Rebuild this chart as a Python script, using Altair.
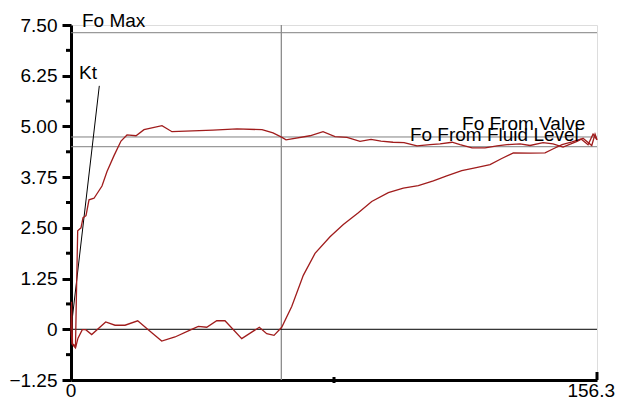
import altair as alt
import pandas as pd

# ---- data ----
fast_x = [0, 0.15, 0.45, 1.34, 1.57, 1.99, 2.97, 3.57, 4.46, 5.35, 6.84, 9.21, 10.70, 12.78, 14.86,
          16.64, 19.32, 21.69, 27.04, 30.01, 42.20, 49.33, 56.76, 60.03, 62.70, 63.89, 71.02, 74.89,
          78.45, 82.02, 85.88, 89.15, 92.12, 95.69, 98.96, 102.82, 106.69, 109.66, 113.22, 115.60,
          119.17, 123.03, 126.60, 129.57, 133.43, 136.40, 140.27, 143.24, 146.21, 150.37, 152.15,
          154.74, 155.72, 156.3]
fast_y = [0, 0.68, -0.36, -0.41, 0.68, 2.43, 2.50, 2.75, 2.80, 3.19, 3.23, 3.53, 3.89, 4.28, 4.64,
          4.79, 4.77, 4.92, 5.02, 4.87, 4.91, 4.94, 4.92, 4.84, 4.73, 4.67, 4.77, 4.87, 4.75, 4.73,
          4.63, 4.68, 4.64, 4.61, 4.60, 4.52, 4.55, 4.57, 4.61, 4.55, 4.47, 4.47, 4.52, 4.55, 4.57,
          4.53, 4.60, 4.57, 4.49, 4.63, 4.71, 4.53, 4.81, 4.67]

slow_x = [0, 0.30, 1.34, 2.08, 3.36, 4.37, 6.15, 10.31, 13.08, 16.05, 19.82, 23.48, 26.95, 30.91,
          35.36, 37.83, 40.33, 43.30, 45.76, 50.73, 53.70, 55.96, 58.16, 60.33, 62.61, 65.59, 69.03,
          72.51, 76.97, 80.92, 85.38, 89.36, 94.29, 98.75, 103.21, 107.67, 111.65, 116.11, 120.06,
          124.52, 127.99, 131.44, 136.40, 140.86, 143.33, 145.91, 148.89, 151.56, 153.64, 155.13, 156.3]
slow_y = [0, -0.36, -0.46, -0.22, -0.01, -0.01, -0.13, 0.18, 0.10, 0.10, 0.21, -0.05, -0.29, -0.19,
          -0.02, 0.07, 0.05, 0.21, 0.21, -0.23, -0.07, 0.05, -0.11, -0.15, 0.05, 0.56, 1.33, 1.87,
          2.28, 2.58, 2.87, 3.15, 3.37, 3.48, 3.54, 3.66, 3.78, 3.91, 3.98, 4.06, 4.21, 4.35, 4.34,
          4.35, 4.45, 4.55, 4.62, 4.69, 4.55, 4.81, 4.67]

ref_names = ["Fo Max", "Fo From Valve", "Fo From Fluid Level"]
ref_values = [7.31, 4.74, 4.50]

label_texts = ["Fo Max", "Kt", "Fo From Valve", "Fo From Fluid Level"]
label_x = [3.27, 2.38, 116.2, 100.7]
label_y = [7.46, 6.18, 4.91, 4.65]

kt_x = [0, 8.41]
kt_y = [0, 6.0]

marker_x = 62.5
x_min, x_max = 0, 156.3
y_min, y_max = -1.25, 7.5
y_major = [-1.25, 0, 1.25, 2.5, 3.75, 5.0, 6.25, 7.5]
y_minor = [-0.625, 0.625, 1.875, 3.125, 4.375, 5.625, 6.875]
x_tick_long = [156.3]
x_tick_short = [78.15]
x_label_text = ["0", "156.3"]
x_label_pos = [0, 156.3]
x_label_align = ["center", "right"]

W, H = 526, 355
FONT = "Liberation Sans"
RED = "#a01c1c"

# ---- tables ----
curves = pd.concat([
    pd.DataFrame({"x": fast_x, "y": fast_y, "s": "fast", "o": range(len(fast_x))}),
    pd.DataFrame({"x": slow_x, "y": slow_y, "s": "slow", "o": range(len(slow_x))}),
])
refs = pd.DataFrame({"name": ref_names, "y": ref_values, "x0": x_min, "x1": x_max})
labels = pd.DataFrame({"t": label_texts, "x": label_x, "y": label_y})
kt = pd.DataFrame({"x": kt_x, "y": kt_y})
zero = pd.DataFrame({"y": [0], "x0": [x_min], "x1": [x_max]})
vline = pd.DataFrame({"x": [marker_x], "y0": [y_min], "y1": [y_max]})
minor = pd.DataFrame({"y": y_minor})
xlong = pd.DataFrame({"x": x_tick_long})
xshort = pd.DataFrame({"x": x_tick_short})
xlab = pd.DataFrame({"t": x_label_text, "x": x_label_pos, "a": x_label_align})

xs = alt.Scale(domain=[x_min, x_max], nice=False, zero=False)
ys = alt.Scale(domain=[y_min, y_max], nice=False, zero=False)

x_axis = alt.Axis(values=[0, 156.3], labels=False, ticks=False, grid=False, title=None,
                  domainColor="black", domainWidth=3)
y_axis = alt.Axis(values=y_major, grid=False, title=None,
                  labelExpr="datum.value == 0 ? '0' : format(datum.value, '.2f')",
                  domainColor="black", domainWidth=3, tickColor="black", tickWidth=3, tickSize=9,
                  labelFont=FONT, labelFontSize=19, labelColor="black", labelPadding=5,
                  labelFlush=False, labelOverlap=False)

base_axes = alt.Chart(zero).mark_rule(color="black", strokeWidth=1).encode(
    x=alt.X("x0:Q", scale=xs, axis=x_axis),
    x2="x1:Q",
    y=alt.Y("y:Q", scale=ys, axis=y_axis),
)

ref_rules = alt.Chart(refs).mark_rule(color="#808080", strokeWidth=1).encode(
    x=alt.X("x0:Q", scale=xs), x2="x1:Q", y=alt.Y("y:Q", scale=ys)
)

v_rule = alt.Chart(vline).mark_rule(color="#8c8c8c", strokeWidth=1.3).encode(
    x=alt.X("x:Q", scale=xs), y=alt.Y("y0:Q", scale=ys), y2="y1:Q"
)

kt_line = alt.Chart(kt).mark_line(color="black", strokeWidth=1).encode(
    x=alt.X("x:Q", scale=xs), y=alt.Y("y:Q", scale=ys)
)

curve_lines = alt.Chart(curves).mark_line(strokeWidth=1.3).encode(
    x=alt.X("x:Q", scale=xs),
    y=alt.Y("y:Q", scale=ys),
    detail="s:N",
    order="o:Q",
    color=alt.value(RED),
)

text = alt.Chart(labels).mark_text(align="left", baseline="alphabetic", font=FONT,
                                    fontSize=19, color="black").encode(
    x=alt.X("x:Q", scale=xs), y=alt.Y("y:Q", scale=ys), text="t:N"
)

x_lab_center = alt.Chart(xlab).transform_filter("datum.a == 'center'").mark_text(
    align="center", baseline="alphabetic", font=FONT, fontSize=19, color="black"
).encode(x=alt.X("x:Q", scale=xs), y=alt.value(H + 17), text="t:N")

x_lab_right = alt.Chart(xlab).transform_filter("datum.a == 'right'").mark_text(
    align="right", baseline="alphabetic", font=FONT, fontSize=19, color="black", dx=18
).encode(x=alt.X("x:Q", scale=xs), y=alt.value(H + 17), text="t:N")

minor_ticks = alt.Chart(minor).mark_rule(color="black", strokeWidth=3).encode(
    y=alt.Y("y:Q", scale=ys), x=alt.value(-5), x2=alt.value(0)
)

x_long_ticks = alt.Chart(xlong).mark_rule(color="black", strokeWidth=3).encode(
    x=alt.X("x:Q", scale=xs), y=alt.value(H - 8), y2=alt.value(H)
)
x_short_ticks = alt.Chart(xshort).mark_rule(color="black", strokeWidth=3).encode(
    x=alt.X("x:Q", scale=xs), y=alt.value(H - 3), y2=alt.value(H + 3)
)

chart = alt.layer(
    ref_rules, v_rule, base_axes, kt_line, curve_lines, text,
    minor_ticks, x_long_ticks, x_short_ticks, x_lab_center, x_lab_right
).properties(
    width=W, height=H,
    autosize=alt.AutoSizeParams(type="none"),
    padding={"left": 63, "top": 17, "right": 18, "bottom": 18},
).configure_view(stroke=None).configure(background="white")

chart.save("out.html", embed_options={"renderer": "svg", "actions": False})
